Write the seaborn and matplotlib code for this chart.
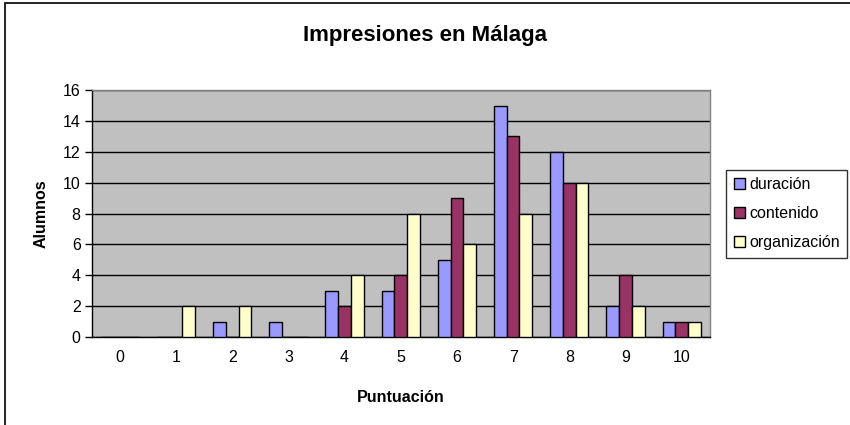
import pandas as pd
import numpy as np
import matplotlib.pyplot as plt
import matplotlib.patches as mpatches
import seaborn as sns

sns.set_style("white")
plt.rcParams['font.family'] = ['Liberation Sans', 'DejaVu Sans']
plt.rcParams['text.color'] = 'black'
plt.rcParams['axes.labelcolor'] = 'black'
plt.rcParams['xtick.color'] = 'black'
plt.rcParams['ytick.color'] = 'black'

# Data
puntuacion = [0, 1, 2, 3, 4, 5, 6, 7, 8, 9, 10]
duracion = [0, 0, 1, 1, 3, 3, 5, 15, 12, 2, 1]
contenido = [0, 0, 0, 0, 2, 4, 9, 13, 10, 4, 1]
organizacion = [0, 2, 2, 0, 4, 8, 6, 8, 10, 2, 1]

series = ['duración', 'contenido', 'organización']
colors = ['#9999ff', '#993366', '#ffffcc']

df = pd.DataFrame({
    'Puntuación': puntuacion * 3,
    'Alumnos': duracion + contenido + organizacion,
    'serie': [s for s in series for _ in puntuacion],
})

fig = plt.figure(figsize=(8.5, 4.25), dpi=100)
ax = fig.add_axes([0.108, 0.207, 0.727, 0.581])
ax.set_facecolor('#c0c0c0')

sns.barplot(data=df, x='Puntuación', y='Alumnos', hue='serie', hue_order=series,
            palette=colors, width=0.68, edgecolor='black', linewidth=1,
            saturation=1, ax=ax, zorder=3)

ax.set_ylim(0, 16)
ax.set_xlim(-0.5, 10.5)
ax.set_yticks(range(0, 17, 2))
ax.yaxis.grid(True, color='black', linewidth=1, zorder=1)
ax.set_axisbelow(True)

# Excel-style ticks between categories
ax.set_xticks(np.arange(-0.5, 11, 1), minor=True)
ax.tick_params(axis='x', which='major', length=0, labelsize=11.5, pad=9)
ax.tick_params(axis='x', which='minor', length=5, width=1, color='black', direction='out')
ax.tick_params(axis='y', length=5, width=1, color='black', direction='out', labelsize=11.5,
               left=True, pad=3)

for side in ['left', 'bottom']:
    ax.spines[side].set_color('black')
    ax.spines[side].set_linewidth(1)
for side in ['top', 'right']:
    ax.spines[side].set_color('#808080')
    ax.spines[side].set_linewidth(1)

ax.set_xlabel('Puntuación', fontsize=11.5, fontweight='bold', labelpad=18)
ax.set_ylabel('Alumnos', fontsize=11.5, fontweight='bold', labelpad=10)
fig.suptitle('Impresiones en Málaga', fontsize=16, fontweight='bold', y=0.94)

handles = [mpatches.Patch(facecolor=c, edgecolor='black', linewidth=1, label=s)
           for s, c in zip(series, colors)]
ax.legend(handles=handles, loc='center left', bbox_to_anchor=(1.027, 0.5),
          frameon=True, fancybox=False, edgecolor='black', fontsize=11.5,
          handlelength=0.7, handleheight=0.7, handletextpad=0.3,
          labelspacing=0.9, borderpad=0.45, borderaxespad=0)

fig.patches.append(mpatches.Rectangle((0.006, -0.01), 1.2, 1.003, transform=fig.transFigure,
                                      fill=False, edgecolor='black', linewidth=1.2))

plt.savefig('out.png', dpi=100)
